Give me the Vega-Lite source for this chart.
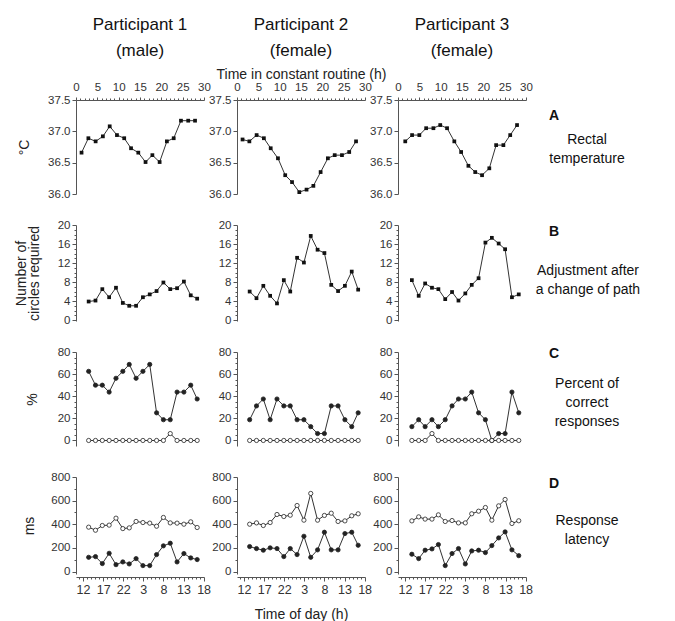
{
  "$schema": "https://vega.github.io/schema/vega-lite/v6.json",
  "background": "white",
  "padding": {"left": 14, "top": 16, "right": 0, "bottom": 0},
  "config": {
    "view": {"stroke": null},
    "font": "Liberation Sans",
    "axis": {"grid": false, "domainColor": "#555", "tickColor": "#555", "labelColor": "#333", "labelFontSize": 11.5, "labelFont": "Liberation Sans", "titleFont": "Liberation Sans", "titleFontWeight": "normal", "titleColor": "#222", "titleFontSize": 14, "labelPadding": 2, "tickSize": 4, "labelOverlap": false, "labelFlush": false},
    "title": {"font": "Liberation Sans", "fontSize": 17, "fontWeight": "normal", "color": "#111", "lineHeight": 26, "offset": 7},
    "text": {"font": "Liberation Sans", "color": "#111"}
  },
  "datasets": {
    "A1": [{"x":1.3,"y":36.66},{"x":2.9,"y":36.89},{"x":4.6,"y":36.84},{"x":6.3,"y":36.92},{"x":7.9,"y":37.08},{"x":9.6,"y":36.94},{"x":11.3,"y":36.89},{"x":12.9,"y":36.73},{"x":14.6,"y":36.66},{"x":16.3,"y":36.51},{"x":17.9,"y":36.62},{"x":19.6,"y":36.51},{"x":21.3,"y":36.84},{"x":22.9,"y":36.89},{"x":24.6,"y":37.17},{"x":26.3,"y":37.17},{"x":27.9,"y":37.17}],
    "A2": [{"x":1.3,"y":36.87},{"x":2.9,"y":36.84},{"x":4.6,"y":36.94},{"x":6.3,"y":36.89},{"x":7.9,"y":36.73},{"x":9.6,"y":36.57},{"x":11.3,"y":36.30},{"x":12.9,"y":36.19},{"x":14.6,"y":36.03},{"x":16.3,"y":36.07},{"x":17.9,"y":36.13},{"x":19.6,"y":36.35},{"x":21.3,"y":36.57},{"x":22.9,"y":36.62},{"x":24.6,"y":36.62},{"x":26.3,"y":36.67},{"x":27.9,"y":36.84}],
    "A3": [{"x":1.7,"y":36.84},{"x":3.3,"y":36.94},{"x":5.0,"y":36.94},{"x":6.6,"y":37.05},{"x":8.3,"y":37.05},{"x":9.9,"y":37.10},{"x":11.5,"y":37.05},{"x":13.2,"y":36.84},{"x":14.8,"y":36.67},{"x":16.5,"y":36.45},{"x":18.1,"y":36.35},{"x":19.7,"y":36.30},{"x":21.4,"y":36.41},{"x":23.0,"y":36.78},{"x":24.7,"y":36.78},{"x":26.3,"y":36.94},{"x":27.9,"y":37.10}],
    "B1": [{"x":13.4,"y":3.9},{"x":15.1,"y":4.1},{"x":16.8,"y":6.5},{"x":18.5,"y":4.8},{"x":20.2,"y":6.8},{"x":21.9,"y":3.6},{"x":23.5,"y":3.0},{"x":25.2,"y":3.0},{"x":26.9,"y":4.8},{"x":28.6,"y":5.4},{"x":30.3,"y":6.1},{"x":32.0,"y":7.9},{"x":33.7,"y":6.5},{"x":35.4,"y":6.7},{"x":37.1,"y":8.1},{"x":38.8,"y":5.2},{"x":40.4,"y":4.5}],
    "B2": [{"x":13.4,"y":6.0},{"x":15.1,"y":4.6},{"x":16.8,"y":7.2},{"x":18.5,"y":5.1},{"x":20.2,"y":3.5},{"x":21.9,"y":8.4},{"x":23.5,"y":6.0},{"x":25.2,"y":13.1},{"x":26.9,"y":12.1},{"x":28.6,"y":17.7},{"x":30.3,"y":14.8},{"x":32.0,"y":14.1},{"x":33.7,"y":7.4},{"x":35.4,"y":6.1},{"x":37.1,"y":7.2},{"x":38.8,"y":10.2},{"x":40.4,"y":6.4}],
    "B3": [{"x":13.7,"y":8.4},{"x":15.4,"y":5.1},{"x":17.0,"y":7.7},{"x":18.7,"y":6.8},{"x":20.3,"y":6.5},{"x":22.0,"y":4.4},{"x":23.7,"y":5.9},{"x":25.3,"y":4.1},{"x":27.0,"y":5.6},{"x":28.6,"y":7.4},{"x":30.3,"y":8.8},{"x":32.0,"y":16.3},{"x":33.6,"y":17.3},{"x":35.3,"y":16.1},{"x":36.9,"y":14.9},{"x":38.6,"y":4.8},{"x":40.3,"y":5.4}],
    "C1": [{"x":13.4,"y":62.5,"s":"f"},{"x":15.1,"y":50,"s":"f"},{"x":16.8,"y":50,"s":"f"},{"x":18.5,"y":43.75,"s":"f"},{"x":20.2,"y":56.25,"s":"f"},{"x":21.9,"y":62.5,"s":"f"},{"x":23.5,"y":68.75,"s":"f"},{"x":25.2,"y":56.25,"s":"f"},{"x":26.9,"y":62.5,"s":"f"},{"x":28.6,"y":68.75,"s":"f"},{"x":30.3,"y":25,"s":"f"},{"x":32.0,"y":18.75,"s":"f"},{"x":33.7,"y":18.75,"s":"f"},{"x":35.4,"y":43.75,"s":"f"},{"x":37.1,"y":43.75,"s":"f"},{"x":38.8,"y":50,"s":"f"},{"x":40.4,"y":37.5,"s":"f"},
      {"x":13.4,"y":0,"s":"o"},{"x":15.1,"y":0,"s":"o"},{"x":16.8,"y":0,"s":"o"},{"x":18.5,"y":0,"s":"o"},{"x":20.2,"y":0,"s":"o"},{"x":21.9,"y":0,"s":"o"},{"x":23.5,"y":0,"s":"o"},{"x":25.2,"y":0,"s":"o"},{"x":26.9,"y":0,"s":"o"},{"x":28.6,"y":0,"s":"o"},{"x":30.3,"y":0,"s":"o"},{"x":32.0,"y":0,"s":"o"},{"x":33.7,"y":6.25,"s":"o"},{"x":35.4,"y":0,"s":"o"},{"x":37.1,"y":0,"s":"o"},{"x":38.8,"y":0,"s":"o"},{"x":40.4,"y":0,"s":"o"}],
    "C2": [{"x":13.4,"y":18.75,"s":"f"},{"x":15.1,"y":31.25,"s":"f"},{"x":16.8,"y":37.5,"s":"f"},{"x":18.5,"y":18.75,"s":"f"},{"x":20.2,"y":37.5,"s":"f"},{"x":21.9,"y":31.25,"s":"f"},{"x":23.5,"y":31.25,"s":"f"},{"x":25.2,"y":18.75,"s":"f"},{"x":26.9,"y":18.75,"s":"f"},{"x":28.6,"y":12.5,"s":"f"},{"x":30.3,"y":6.25,"s":"f"},{"x":32.0,"y":6.25,"s":"f"},{"x":33.7,"y":31.25,"s":"f"},{"x":35.4,"y":31.25,"s":"f"},{"x":37.1,"y":18.75,"s":"f"},{"x":38.8,"y":12.5,"s":"f"},{"x":40.4,"y":25,"s":"f"},
      {"x":13.4,"y":0,"s":"o"},{"x":15.1,"y":0,"s":"o"},{"x":16.8,"y":0,"s":"o"},{"x":18.5,"y":0,"s":"o"},{"x":20.2,"y":0,"s":"o"},{"x":21.9,"y":0,"s":"o"},{"x":23.5,"y":0,"s":"o"},{"x":25.2,"y":0,"s":"o"},{"x":26.9,"y":0,"s":"o"},{"x":28.6,"y":0,"s":"o"},{"x":30.3,"y":0,"s":"o"},{"x":32.0,"y":0,"s":"o"},{"x":33.7,"y":0,"s":"o"},{"x":35.4,"y":0,"s":"o"},{"x":37.1,"y":0,"s":"o"},{"x":38.8,"y":0,"s":"o"},{"x":40.4,"y":0,"s":"o"}],
    "C3": [{"x":13.7,"y":12.5,"s":"f"},{"x":15.4,"y":18.75,"s":"f"},{"x":17.0,"y":12.5,"s":"f"},{"x":18.7,"y":18.75,"s":"f"},{"x":20.3,"y":12.5,"s":"f"},{"x":22.0,"y":18.75,"s":"f"},{"x":23.7,"y":31.25,"s":"f"},{"x":25.3,"y":37.5,"s":"f"},{"x":27.0,"y":37.5,"s":"f"},{"x":28.6,"y":43.75,"s":"f"},{"x":30.3,"y":25,"s":"f"},{"x":32.0,"y":18.75,"s":"f"},{"x":33.6,"y":0,"s":"f"},{"x":35.3,"y":6.25,"s":"f"},{"x":36.9,"y":6.25,"s":"f"},{"x":38.6,"y":43.75,"s":"f"},{"x":40.3,"y":25,"s":"f"},
      {"x":13.7,"y":0,"s":"o"},{"x":15.4,"y":0,"s":"o"},{"x":17.0,"y":0,"s":"o"},{"x":18.7,"y":6.25,"s":"o"},{"x":20.3,"y":0,"s":"o"},{"x":22.0,"y":0,"s":"o"},{"x":23.7,"y":0,"s":"o"},{"x":25.3,"y":0,"s":"o"},{"x":27.0,"y":0,"s":"o"},{"x":28.6,"y":0,"s":"o"},{"x":30.3,"y":0,"s":"o"},{"x":32.0,"y":0,"s":"o"},{"x":33.6,"y":0,"s":"o"},{"x":35.3,"y":0,"s":"o"},{"x":36.9,"y":0,"s":"o"},{"x":38.6,"y":0,"s":"o"},{"x":40.3,"y":0,"s":"o"}],
    "D1": [{"x":13.4,"y":121,"s":"f"},{"x":15.1,"y":127,"s":"f"},{"x":16.8,"y":68,"s":"f"},{"x":18.5,"y":155,"s":"f"},{"x":20.2,"y":59,"s":"f"},{"x":21.9,"y":82,"s":"f"},{"x":23.5,"y":65,"s":"f"},{"x":25.2,"y":110,"s":"f"},{"x":26.9,"y":51,"s":"f"},{"x":28.6,"y":51,"s":"f"},{"x":30.3,"y":144,"s":"f"},{"x":32.0,"y":218,"s":"f"},{"x":33.7,"y":240,"s":"f"},{"x":35.4,"y":82,"s":"f"},{"x":37.1,"y":153,"s":"f"},{"x":38.8,"y":116,"s":"f"},{"x":40.4,"y":102,"s":"f"},
      {"x":13.4,"y":376,"s":"o"},{"x":15.1,"y":350,"s":"o"},{"x":16.8,"y":390,"s":"o"},{"x":18.5,"y":393,"s":"o"},{"x":20.2,"y":452,"s":"o"},{"x":21.9,"y":364,"s":"o"},{"x":23.5,"y":370,"s":"o"},{"x":25.2,"y":424,"s":"o"},{"x":26.9,"y":415,"s":"o"},{"x":28.6,"y":410,"s":"o"},{"x":30.3,"y":384,"s":"o"},{"x":32.0,"y":458,"s":"o"},{"x":33.7,"y":412,"s":"o"},{"x":35.4,"y":410,"s":"o"},{"x":37.1,"y":401,"s":"o"},{"x":38.8,"y":421,"s":"o"},{"x":40.4,"y":373,"s":"o"}],
    "D2": [{"x":13.4,"y":212,"s":"f"},{"x":15.1,"y":195,"s":"f"},{"x":16.8,"y":181,"s":"f"},{"x":18.5,"y":201,"s":"f"},{"x":20.2,"y":195,"s":"f"},{"x":21.9,"y":127,"s":"f"},{"x":23.5,"y":195,"s":"f"},{"x":25.2,"y":144,"s":"f"},{"x":26.9,"y":299,"s":"f"},{"x":28.6,"y":121,"s":"f"},{"x":30.3,"y":184,"s":"f"},{"x":32.0,"y":333,"s":"f"},{"x":33.7,"y":184,"s":"f"},{"x":35.4,"y":184,"s":"f"},{"x":37.1,"y":322,"s":"f"},{"x":38.8,"y":333,"s":"f"},{"x":40.4,"y":223,"s":"f"},
      {"x":13.4,"y":401,"s":"o"},{"x":15.1,"y":412,"s":"o"},{"x":16.8,"y":390,"s":"o"},{"x":18.5,"y":415,"s":"o"},{"x":20.2,"y":483,"s":"o"},{"x":21.9,"y":466,"s":"o"},{"x":23.5,"y":477,"s":"o"},{"x":25.2,"y":559,"s":"o"},{"x":26.9,"y":435,"s":"o"},{"x":28.6,"y":661,"s":"o"},{"x":30.3,"y":435,"s":"o"},{"x":32.0,"y":475,"s":"o"},{"x":33.7,"y":494,"s":"o"},{"x":35.4,"y":424,"s":"o"},{"x":37.1,"y":429,"s":"o"},{"x":38.8,"y":472,"s":"o"},{"x":40.4,"y":489,"s":"o"}],
    "D3": [{"x":13.7,"y":147,"s":"f"},{"x":15.4,"y":110,"s":"f"},{"x":17.0,"y":181,"s":"f"},{"x":18.7,"y":192,"s":"f"},{"x":20.3,"y":229,"s":"f"},{"x":22.0,"y":51,"s":"f"},{"x":23.7,"y":153,"s":"f"},{"x":25.3,"y":195,"s":"f"},{"x":27.0,"y":65,"s":"f"},{"x":28.6,"y":175,"s":"f"},{"x":30.3,"y":181,"s":"f"},{"x":32.0,"y":161,"s":"f"},{"x":33.6,"y":220,"s":"f"},{"x":35.3,"y":285,"s":"f"},{"x":36.9,"y":336,"s":"f"},{"x":38.6,"y":184,"s":"f"},{"x":40.3,"y":135,"s":"f"},
      {"x":13.7,"y":429,"s":"o"},{"x":15.4,"y":463,"s":"o"},{"x":17.0,"y":444,"s":"o"},{"x":18.7,"y":444,"s":"o"},{"x":20.3,"y":480,"s":"o"},{"x":22.0,"y":424,"s":"o"},{"x":23.7,"y":432,"s":"o"},{"x":25.3,"y":412,"s":"o"},{"x":27.0,"y":412,"s":"o"},{"x":28.6,"y":489,"s":"o"},{"x":30.3,"y":511,"s":"o"},{"x":32.0,"y":542,"s":"o"},{"x":33.6,"y":435,"s":"o"},{"x":35.3,"y":556,"s":"o"},{"x":36.9,"y":610,"s":"o"},{"x":38.6,"y":407,"s":"o"},{"x":40.3,"y":430,"s":"o"}]
  },
  "columns": 4,
  "bounds": "flush",
  "align": "each",
  "spacing": {"row": 31, "column": 33},
  "concat": [
    {"width": 128, "height": 94, "title": {"text": ["Participant 1", "(male)"]}, "data": {"name": "A1"},
     "encoding": {
       "x": {"field": "x", "type": "quantitative", "scale": {"domain": [0, 30], "nice": false}, "axis": {"orient": "top", "values": [0,1,2,3,4,5,6,7,8,9,10,11,12,13,14,15,16,17,18,19,20,21,22,23,24,25,26,27,28,29,30], "labelExpr": "datum.value % 5 === 0 ? datum.label : ''", "tickSize": {"condition": {"test": "datum.value % 5 === 0", "value": 3}, "value": 2}, "labelPadding": 5, "title": "Time in constant routine (h)", "titleOpacity": 0, "titlePadding": 0}},
       "y": {"field": "y", "type": "quantitative", "scale": {"domain": [36, 37.5], "nice": false, "zero": false}, "axis": {"values": [36, 36.5, 37, 37.5], "format": ".1f", "title": "°C", "titlePadding": 16}}},
     "layer": [{"mark": {"type": "line", "color": "#333", "strokeWidth": 1}}, {"mark": {"type": "point", "shape": "square", "filled": true, "size": 14, "color": "#111", "opacity": 1}}]},
    {"width": 128, "height": 94, "title": {"text": ["Participant 2", "(female)"]}, "data": {"name": "A2"},
     "encoding": {
       "x": {"field": "x", "type": "quantitative", "scale": {"domain": [0, 30], "nice": false}, "axis": {"orient": "top", "values": [0,1,2,3,4,5,6,7,8,9,10,11,12,13,14,15,16,17,18,19,20,21,22,23,24,25,26,27,28,29,30], "labelExpr": "datum.value % 5 === 0 ? datum.label : ''", "tickSize": {"condition": {"test": "datum.value % 5 === 0", "value": 3}, "value": 2}, "labelPadding": 5, "title": "Time in constant routine (h)", "titlePadding": 0}},
       "y": {"field": "y", "type": "quantitative", "scale": {"domain": [36, 37.5], "nice": false, "zero": false}, "axis": {"values": [36, 36.5, 37, 37.5], "format": ".1f", "title": null}}},
     "layer": [{"mark": {"type": "line", "color": "#333", "strokeWidth": 1}}, {"mark": {"type": "point", "shape": "square", "filled": true, "size": 14, "color": "#111", "opacity": 1}}]},
    {"width": 128, "height": 94, "title": {"text": ["Participant 3", "(female)"]}, "data": {"name": "A3"},
     "encoding": {
       "x": {"field": "x", "type": "quantitative", "scale": {"domain": [0, 30], "nice": false}, "axis": {"orient": "top", "values": [0,1,2,3,4,5,6,7,8,9,10,11,12,13,14,15,16,17,18,19,20,21,22,23,24,25,26,27,28,29,30], "labelExpr": "datum.value % 5 === 0 ? datum.label : ''", "tickSize": {"condition": {"test": "datum.value % 5 === 0", "value": 3}, "value": 2}, "labelPadding": 5, "title": "Time in constant routine (h)", "titleOpacity": 0, "titlePadding": 0}},
       "y": {"field": "y", "type": "quantitative", "scale": {"domain": [36, 37.5], "nice": false, "zero": false}, "axis": {"values": [36, 36.5, 37, 37.5], "format": ".1f", "title": null}}},
     "layer": [{"mark": {"type": "line", "color": "#333", "strokeWidth": 1}}, {"mark": {"type": "point", "shape": "square", "filled": true, "size": 14, "color": "#111", "opacity": 1}}]},
    {"width": 60, "height": 94, "data": {"values": [{"k": "A", "t": "Rectal\ntemperature"}]},
     "layer": [
       {"mark": {"type": "text", "fontWeight": "bold", "fontSize": 14, "dx": -35, "dy": -31, "align": "center", "baseline": "middle"}, "encoding": {"text": {"field": "k"}}},
       {"mark": {"type": "text", "fontSize": 14, "lineBreak": "\n", "lineHeight": 19, "dx": -2, "dy": -7, "align": "center", "baseline": "middle"}, "encoding": {"text": {"field": "t"}}}]},

    {"width": 128, "height": 96, "data": {"name": "B1"},
     "encoding": {
       "x": {"field": "x", "type": "quantitative", "scale": {"domain": [10.25, 42.1], "nice": false, "zero": false}, "axis": null},
       "y": {"field": "y", "type": "quantitative", "scale": {"domain": [-0.2, 20], "nice": false}, "axis": {"values": [0,1,2,3,4,5,6,7,8,9,10,11,12,13,14,15,16,17,18,19,20], "labelExpr": "datum.value % 4 === 0 ? datum.label : ''", "tickSize": {"condition": {"test": "datum.value % 4 === 0", "value": 4}, "value": 2}, "title": ["Number of", "circles required"], "titlePadding": 16, "titleLineHeight": 13}}},
     "layer": [{"mark": {"type": "line", "color": "#333", "strokeWidth": 1}}, {"mark": {"type": "point", "shape": "square", "filled": true, "size": 14, "color": "#111", "opacity": 1}}]},
    {"width": 128, "height": 96, "data": {"name": "B2"},
     "encoding": {
       "x": {"field": "x", "type": "quantitative", "scale": {"domain": [10.25, 42.1], "nice": false, "zero": false}, "axis": null},
       "y": {"field": "y", "type": "quantitative", "scale": {"domain": [-0.2, 20], "nice": false}, "axis": {"values": [0,1,2,3,4,5,6,7,8,9,10,11,12,13,14,15,16,17,18,19,20], "labelExpr": "datum.value % 4 === 0 ? datum.label : ''", "tickSize": {"condition": {"test": "datum.value % 4 === 0", "value": 4}, "value": 2}, "title": null}}},
     "layer": [{"mark": {"type": "line", "color": "#333", "strokeWidth": 1}}, {"mark": {"type": "point", "shape": "square", "filled": true, "size": 14, "color": "#111", "opacity": 1}}]},
    {"width": 128, "height": 96, "data": {"name": "B3"},
     "encoding": {
       "x": {"field": "x", "type": "quantitative", "scale": {"domain": [10.25, 42.1], "nice": false, "zero": false}, "axis": null},
       "y": {"field": "y", "type": "quantitative", "scale": {"domain": [-0.2, 20], "nice": false}, "axis": {"values": [0,1,2,3,4,5,6,7,8,9,10,11,12,13,14,15,16,17,18,19,20], "labelExpr": "datum.value % 4 === 0 ? datum.label : ''", "tickSize": {"condition": {"test": "datum.value % 4 === 0", "value": 4}, "value": 2}, "title": null}}},
     "layer": [{"mark": {"type": "line", "color": "#333", "strokeWidth": 1}}, {"mark": {"type": "point", "shape": "square", "filled": true, "size": 14, "color": "#111", "opacity": 1}}]},
    {"width": 60, "height": 96, "data": {"values": [{"k": "B", "t": "Adjustment after\na change of path"}]},
     "layer": [
       {"mark": {"type": "text", "fontWeight": "bold", "fontSize": 14, "dx": -35, "dy": -41, "align": "center", "baseline": "middle"}, "encoding": {"text": {"field": "k"}}},
       {"mark": {"type": "text", "fontSize": 14, "lineBreak": "\n", "lineHeight": 19, "dx": -1, "dy": -2, "align": "center", "baseline": "middle"}, "encoding": {"text": {"field": "t"}}}]},

    {"width": 128, "height": 94, "data": {"name": "C1"},
     "encoding": {
       "x": {"field": "x", "type": "quantitative", "scale": {"domain": [10.25, 42.1], "nice": false, "zero": false}, "axis": null},
       "y": {"field": "y", "type": "quantitative", "scale": {"domain": [-5, 80], "nice": false}, "axis": {"values": [0,5,10,15,20,25,30,35,40,45,50,55,60,65,70,75,80], "labelExpr": "datum.value % 20 === 0 ? datum.label : ''", "tickSize": {"condition": {"test": "datum.value % 20 === 0", "value": 4}, "value": 2}, "title": "%", "titlePadding": 18}}},
     "layer": [{"mark": {"type": "line", "color": "#333", "strokeWidth": 1}, "encoding": {"detail": {"field": "s"}}}, {"mark": {"type": "point", "shape": "circle", "filled": true, "size": 18, "stroke": "#222", "strokeWidth": 0.8, "opacity": 1}, "encoding": {"fill": {"field": "s", "type": "nominal", "scale": {"domain": ["f", "o"], "range": ["#222", "#ffffff"]}, "legend": null}}}]},
    {"width": 128, "height": 94, "data": {"name": "C2"},
     "encoding": {
       "x": {"field": "x", "type": "quantitative", "scale": {"domain": [10.25, 42.1], "nice": false, "zero": false}, "axis": null},
       "y": {"field": "y", "type": "quantitative", "scale": {"domain": [-5, 80], "nice": false}, "axis": {"values": [0,5,10,15,20,25,30,35,40,45,50,55,60,65,70,75,80], "labelExpr": "datum.value % 20 === 0 ? datum.label : ''", "tickSize": {"condition": {"test": "datum.value % 20 === 0", "value": 4}, "value": 2}, "title": null}}},
     "layer": [{"mark": {"type": "line", "color": "#333", "strokeWidth": 1}, "encoding": {"detail": {"field": "s"}}}, {"mark": {"type": "point", "shape": "circle", "filled": true, "size": 18, "stroke": "#222", "strokeWidth": 0.8, "opacity": 1}, "encoding": {"fill": {"field": "s", "type": "nominal", "scale": {"domain": ["f", "o"], "range": ["#222", "#ffffff"]}, "legend": null}}}]},
    {"width": 128, "height": 94, "data": {"name": "C3"},
     "encoding": {
       "x": {"field": "x", "type": "quantitative", "scale": {"domain": [10.25, 42.1], "nice": false, "zero": false}, "axis": null},
       "y": {"field": "y", "type": "quantitative", "scale": {"domain": [-5, 80], "nice": false}, "axis": {"values": [0,5,10,15,20,25,30,35,40,45,50,55,60,65,70,75,80], "labelExpr": "datum.value % 20 === 0 ? datum.label : ''", "tickSize": {"condition": {"test": "datum.value % 20 === 0", "value": 4}, "value": 2}, "title": null}}},
     "layer": [{"mark": {"type": "line", "color": "#333", "strokeWidth": 1}, "encoding": {"detail": {"field": "s"}}}, {"mark": {"type": "point", "shape": "circle", "filled": true, "size": 18, "stroke": "#222", "strokeWidth": 0.8, "opacity": 1}, "encoding": {"fill": {"field": "s", "type": "nominal", "scale": {"domain": ["f", "o"], "range": ["#222", "#ffffff"]}, "legend": null}}}]},
    {"width": 60, "height": 94, "data": {"values": [{"k": "C", "t": "Percent of\ncorrect\nresponses"}]},
     "layer": [
       {"mark": {"type": "text", "fontWeight": "bold", "fontSize": 14, "dx": -35, "dy": -45, "align": "center", "baseline": "middle"}, "encoding": {"text": {"field": "k"}}},
       {"mark": {"type": "text", "fontSize": 14, "lineBreak": "\n", "lineHeight": 19, "dx": -2, "dy": -15, "align": "center", "baseline": "middle"}, "encoding": {"text": {"field": "t"}}}]},

    {"width": 128, "height": 97, "data": {"name": "D1"},
     "encoding": {
       "x": {"field": "x", "type": "quantitative", "scale": {"domain": [10.25, 42.1], "nice": false, "zero": false}, "axis": {"orient": "bottom", "offset": 3, "values": [11,12,13,14,15,16,17,18,19,20,21,22,23,24,25,26,27,28,29,30,31,32,33,34,35,36,37,38,39,40,41,42], "labelExpr": "(datum.value - 12) % 5 === 0 ? '' + (datum.value % 24) : ''", "tickSize": {"condition": {"test": "(datum.value - 12) % 5 === 0", "value": 4}, "value": 2}, "labelFontSize": 12.5, "title": null}},
       "y": {"field": "y", "type": "quantitative", "scale": {"domain": [-20, 800], "nice": false}, "axis": {"values": [0,100,200,300,400,500,600,700,800], "labelExpr": "datum.value % 200 === 0 ? datum.label : ''", "tickSize": {"condition": {"test": "datum.value % 200 === 0", "value": 4}, "value": 2}, "format": "d", "title": "ms", "titlePadding": 14}}},
     "layer": [{"mark": {"type": "line", "color": "#333", "strokeWidth": 1}, "encoding": {"detail": {"field": "s"}}}, {"mark": {"type": "point", "shape": "circle", "filled": true, "size": 18, "stroke": "#222", "strokeWidth": 0.8, "opacity": 1}, "encoding": {"fill": {"field": "s", "type": "nominal", "scale": {"domain": ["f", "o"], "range": ["#222", "#ffffff"]}, "legend": null}}}]},
    {"width": 128, "height": 97, "data": {"name": "D2"},
     "encoding": {
       "x": {"field": "x", "type": "quantitative", "scale": {"domain": [10.25, 42.1], "nice": false, "zero": false}, "axis": {"orient": "bottom", "offset": 3, "values": [11,12,13,14,15,16,17,18,19,20,21,22,23,24,25,26,27,28,29,30,31,32,33,34,35,36,37,38,39,40,41,42], "labelExpr": "(datum.value - 12) % 5 === 0 ? '' + (datum.value % 24) : ''", "tickSize": {"condition": {"test": "(datum.value - 12) % 5 === 0", "value": 4}, "value": 2}, "labelFontSize": 12.5, "title": "Time of day (h)", "titlePadding": 12}},
       "y": {"field": "y", "type": "quantitative", "scale": {"domain": [-20, 800], "nice": false}, "axis": {"values": [0,100,200,300,400,500,600,700,800], "labelExpr": "datum.value % 200 === 0 ? datum.label : ''", "tickSize": {"condition": {"test": "datum.value % 200 === 0", "value": 4}, "value": 2}, "format": "d", "title": null}}},
     "layer": [{"mark": {"type": "line", "color": "#333", "strokeWidth": 1}, "encoding": {"detail": {"field": "s"}}}, {"mark": {"type": "point", "shape": "circle", "filled": true, "size": 18, "stroke": "#222", "strokeWidth": 0.8, "opacity": 1}, "encoding": {"fill": {"field": "s", "type": "nominal", "scale": {"domain": ["f", "o"], "range": ["#222", "#ffffff"]}, "legend": null}}}]},
    {"width": 128, "height": 97, "data": {"name": "D3"},
     "encoding": {
       "x": {"field": "x", "type": "quantitative", "scale": {"domain": [10.25, 42.1], "nice": false, "zero": false}, "axis": {"orient": "bottom", "offset": 3, "values": [11,12,13,14,15,16,17,18,19,20,21,22,23,24,25,26,27,28,29,30,31,32,33,34,35,36,37,38,39,40,41,42], "labelExpr": "(datum.value - 12) % 5 === 0 ? '' + (datum.value % 24) : ''", "tickSize": {"condition": {"test": "(datum.value - 12) % 5 === 0", "value": 4}, "value": 2}, "labelFontSize": 12.5, "title": null}},
       "y": {"field": "y", "type": "quantitative", "scale": {"domain": [-20, 800], "nice": false}, "axis": {"values": [0,100,200,300,400,500,600,700,800], "labelExpr": "datum.value % 200 === 0 ? datum.label : ''", "tickSize": {"condition": {"test": "datum.value % 200 === 0", "value": 4}, "value": 2}, "format": "d", "title": null}}},
     "layer": [{"mark": {"type": "line", "color": "#333", "strokeWidth": 1}, "encoding": {"detail": {"field": "s"}}}, {"mark": {"type": "point", "shape": "circle", "filled": true, "size": 18, "stroke": "#222", "strokeWidth": 0.8, "opacity": 1}, "encoding": {"fill": {"field": "s", "type": "nominal", "scale": {"domain": ["f", "o"], "range": ["#222", "#ffffff"]}, "legend": null}}}]},
    {"width": 60, "height": 97, "data": {"values": [{"k": "D", "t": "Response\nlatency"}]},
     "layer": [
       {"mark": {"type": "text", "fontWeight": "bold", "fontSize": 14, "dx": -35, "dy": -42, "align": "center", "baseline": "middle"}, "encoding": {"text": {"field": "k"}}},
       {"mark": {"type": "text", "fontSize": 14, "lineBreak": "\n", "lineHeight": 19, "dx": -2, "dy": -5, "align": "center", "baseline": "middle"}, "encoding": {"text": {"field": "t"}}}]}
  ]
}
